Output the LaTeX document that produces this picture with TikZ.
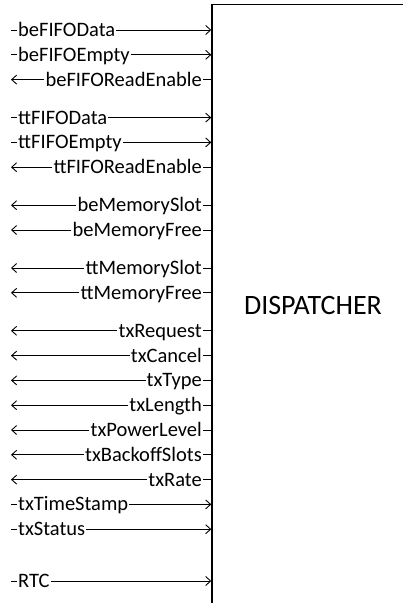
\documentclass[tikz,border=0pt]{standalone}
\usepackage{fontspec}
\setmainfont{Carlito}
\usetikzlibrary{arrows.meta}
\begin{document}
\begin{tikzpicture}[x=1pt,y=-1pt,
  sig/.style={font=\fontsize{20.5}{24}\selectfont, inner xsep=1pt, inner ysep=0pt,
              text height=13pt, text depth=0pt},
  wire/.style={line width=0.9pt},
  inarrow/.style={wire, -{Straight Barb[length=5pt,width=9pt]}},
  outarrow/.style={wire, -{Straight Barb[length=5pt,width=9pt]}},
  block/.style={draw, line width=1.4pt, minimum width=202pt, minimum height=602pt,
                inner sep=0pt, font=\fontsize{28}{33}\selectfont}
]
\useasboundingbox (0,0) rectangle (403,603);
\clip (0,0) rectangle (403,603);

% the dispatcher block (runs past the right and bottom edges)
\node[block] (disp) at (313,305.7) {DISPATCHER};

% signals flowing into the dispatcher
\foreach \n/\y/\t in {a/30/beFIFOData, b/54.8/beFIFOEmpty,
                      d/117.6/ttFIFOData, e/142.4/ttFIFOEmpty,
                      r/504.4/txTimeStamp, s/529.2/txStatus, t/581/RTC} {
  \coordinate (\n-l) at (11,\y);
  \coordinate (\n-r) at (disp.west |- \n-l);
  \node[sig, anchor=west] (\n) at (17,\y) {\t};
  \draw[wire] (\n-l) -- (\n);
  \draw[inarrow] (\n) -- (\n-r);
}

% signals driven by the dispatcher
\foreach \n/\y/\t in {c/79.6/beFIFOReadEnable, f/167.2/ttFIFOReadEnable,
                      g/205.2/beMemorySlot, h/230/beMemoryFree,
                      i/268/ttMemorySlot, j/292.8/ttMemoryFree,
                      k/330.8/txRequest, l/355.6/txCancel, m/380.4/txType,
                      n/405.2/txLength, o/430/txPowerLevel,
                      p/454.8/txBackoffSlots, q/479.6/txRate} {
  \coordinate (\n-l) at (11,\y);
  \coordinate (\n-r) at (disp.west |- \n-l);
  \node[sig, anchor=east] (\n) at (203,\y) {\t};
  \draw[outarrow] (\n) -- (\n-l);
  \draw[wire] (\n) -- (\n-r);
}
\end{tikzpicture}
\end{document}
